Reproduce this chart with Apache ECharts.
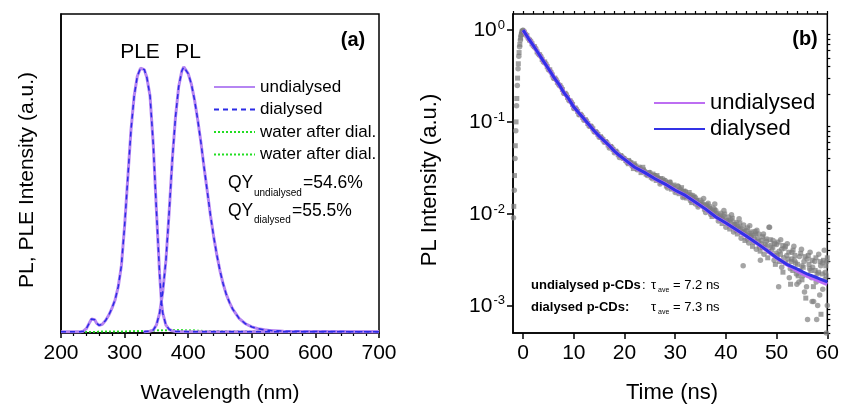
<!DOCTYPE html>
<html>
<head>
<meta charset="utf-8">
<script src="https://cdn.jsdelivr.net/npm/echarts@6.0.0/dist/echarts.min.js"></script>
<style>
html,body{margin:0;padding:0;background:#fff;}
#chart{width:842px;height:406px;}
</style>
</head>
<body>
<div id="chart"></div>
<script>
// ---------- Panel (a): PL / PLE spectra ----------
const pleX = [200,210,220,230,235,240,245,248,250,253,256,260,265,270,275,280,285,290,295,300,305,310,315,320,325,328,331,335,340,345,350,355,358,360,365,370,375,380,400,500,600,700];
const pleY = [0,0,0,0,0.002,0.012,0.035,0.048,0.052,0.045,0.032,0.024,0.028,0.042,0.062,0.088,0.12,0.17,0.25,0.4,0.58,0.76,0.89,0.965,0.995,1.0,0.99,0.96,0.89,0.71,0.46,0.22,0.11,0.07,0.025,0.009,0.003,0.001,0,0,0,0];
const plX = [330,340,345,350,355,360,365,370,375,380,385,390,393,396,400,405,410,415,420,425,430,435,440,445,450,455,460,465,470,480,490,500,510,520,530,550,580,620,700];
const plY = [0,0.002,0.006,0.025,0.07,0.15,0.27,0.45,0.65,0.81,0.925,0.985,1.0,0.995,0.975,0.935,0.875,0.8,0.715,0.62,0.53,0.44,0.36,0.29,0.23,0.18,0.14,0.11,0.085,0.05,0.03,0.018,0.011,0.007,0.004,0.002,0.001,0.0003,0];
const waterX = [200,250,300,330,350,370,390,410,430,460,500,600,700];
const water1Y = [0,0,0.001,0.003,0.005,0.006,0.006,0.005,0.003,0.002,0.001,0,0];
const water2Y = [0,0,0.001,0.002,0.004,0.005,0.005,0.004,0.003,0.001,0.001,0,0];

// ---------- Panel (b): PL decay ----------
const fitT = [0,1,2,3,4,5,6,7,8,9,10,11,12,13,14,15,16,17,18,19,20,22,24,26,28,30,32,34,36,38,40,42,44,46,48,50,52,54,56,58,60];
const fitUndialysed = [1.0,0.82,0.68,0.56,0.46,0.38,0.31,0.26,0.21,0.178,0.145,0.125,0.108,0.093,0.08,0.07,0.062,0.055,0.048,0.043,0.039,0.032,0.028,0.024,0.021,0.018,0.0158,0.0133,0.0112,0.0092,0.0079,0.0067,0.0057,0.0048,0.004,0.0033,0.0028,0.0024,0.0021,0.0019,0.0017];
const fitDialysed = [1.0,0.82,0.68,0.56,0.46,0.38,0.31,0.26,0.21,0.178,0.145,0.125,0.108,0.093,0.08,0.07,0.062,0.055,0.048,0.043,0.039,0.032,0.028,0.024,0.021,0.018,0.0158,0.0133,0.0112,0.0092,0.0079,0.0067,0.0057,0.0048,0.004,0.0033,0.0028,0.0025,0.0022,0.002,0.0018];
const dataCircles = [
[-1.9,0.009],[-1.75,0.018],[-1.6,0.04],[-1.45,0.08],[-1.3,0.15],[-1.15,0.25],[-1.0,0.38],[-0.85,0.52],[-0.7,0.66],[-0.55,0.78],[-0.4,0.88],[-0.25,0.95],[-0.1,0.99],
[0,1.0],[0.5,0.91],[1,0.81],[1.5,0.76],[2,0.67],[2.5,0.63],[3,0.55],[3.5,0.52],[4,0.45],[4.5,0.43],[5,0.37],[5.5,0.35],[6,0.30],[6.5,0.29],[7,0.255],[7.5,0.24],[8,0.205],[8.5,0.2],[9,0.172],[9.5,0.165],[10,0.14],[10.5,0.138],[11,0.12],[11.5,0.119],[12,0.104],[12.5,0.103],[13,0.09],[13.5,0.089],[14,0.078],[14.5,0.077],[15,0.068],[15.5,0.067],[16,0.06],[16.5,0.06],[17,0.052],[17.5,0.053],[18,0.046],[18.5,0.047],[19,0.041],[19.5,0.042],
[20,0.040],[20.5,0.036],[21,0.037],[21.5,0.033],[22,0.034],[22.5,0.030],[23,0.032],[23.5,0.029],[24,0.029],[24.5,0.026],[25,0.028],[25.5,0.024],[26,0.026],[26.5,0.025],[27,0.021],[27.5,0.024],[28,0.023],[28.5,0.019],[29,0.022],[29.5,0.020],[30,0.017],[30.5,0.020],[31,0.0185],[31.5,0.0150],[32,0.0175],[32.5,0.0162],[33,0.0138],[33.5,0.0158],[34,0.0149],[34.5,0.0118],[35,0.0140],[35.5,0.0127],[36,0.0103],[36.5,0.0130],[37,0.0098],[37.5,0.0115],[38,0.0108],[38.5,0.0083],[39,0.0101],[39.5,0.0094],[40,0.0071],[40.5,0.0092],[41,0.0086],[41.5,0.0063],[42,0.0080],[42.5,0.0072],[43,0.0054],[43.5,0.0075],[44,0.0066],[44.5,0.0048],[45,0.0063],[45.5,0.0058],[46,0.0041],[46.5,0.0060],[47,0.0051],[47.5,0.0036],[48,0.0050],[48.5,0.0071],[49,0.0040],[49.5,0.0031],[50,0.0046],[50.5,0.0039],[51,0.0026],[51.5,0.0042],[52,0.0035],[52.5,0.0020],[53,0.0038],[53.5,0.0031],[54,0.0017],[54.5,0.0034],[55,0.0027],[55.5,0.0014],[56,0.0032],[56.5,0.0025],[57,0.0011],[57.5,0.0030],[58,0.0022],[58.5,0.0013],[59,0.0029],[59.5,0.0019],[60,0.0010]
];
const dataSquares = [
[-1.85,0.012],[-1.7,0.026],[-1.55,0.055],[-1.4,0.1],[-1.25,0.18],[-1.1,0.3],[-0.95,0.43],[-0.8,0.57],[-0.65,0.7],[-0.5,0.82],[-0.35,0.9],[-0.2,0.97],
[0.25,0.95],[0.75,0.87],[1.25,0.78],[1.75,0.71],[2.25,0.66],[2.75,0.58],[3.25,0.54],[3.75,0.48],[4.25,0.45],[4.75,0.40],[5.25,0.37],[5.75,0.325],[6.25,0.3],[6.75,0.27],[7.25,0.25],[7.75,0.225],[8.25,0.205],[8.75,0.185],[9.25,0.17],[9.75,0.155],[10.25,0.142],[10.75,0.13],[11.25,0.121],[11.75,0.112],[12.25,0.106],[12.75,0.096],[13.25,0.09],[13.75,0.084],[14.25,0.078],[14.75,0.073],[15.25,0.069],[15.75,0.064],[16.25,0.061],[16.75,0.056],[17.25,0.054],[17.75,0.05],[18.25,0.048],[18.75,0.044],[19.25,0.043],[19.75,0.04],
[20.25,0.038],[20.75,0.035],[21.25,0.036],[21.75,0.031],[22.25,0.033],[22.75,0.031],[23.25,0.028],[23.75,0.030],[24.25,0.027],[24.75,0.028],[25.25,0.025],[25.75,0.026],[26.25,0.023],[26.75,0.024],[27.25,0.022],[27.75,0.023],[28.25,0.020],[28.75,0.021],[29.25,0.0185],[29.75,0.0205],[30.25,0.0178],[30.75,0.0165],[31.25,0.0192],[31.75,0.0155],[32.25,0.0148],[32.75,0.0170],[33.25,0.0132],[33.75,0.0152],[34.25,0.0140],[34.75,0.0124],[35.25,0.0133],[35.75,0.0112],[36.25,0.0125],[36.75,0.0119],[37.25,0.0093],[37.75,0.0110],[38.25,0.0097],[38.75,0.0088],[39.25,0.0078],[39.75,0.0099],[40.25,0.0083],[40.75,0.0068],[41.25,0.0089],[41.75,0.0076],[42.25,0.0060],[42.75,0.0079],[43.25,0.0067],[43.75,0.0051],[44.25,0.0070],[44.75,0.0061],[45.25,0.0044],[45.75,0.0064],[46.25,0.0053],[46.75,0.0039],[47.25,0.0056],[47.75,0.0046],[48.25,0.0033],[48.75,0.0052],[49.25,0.0043],[49.75,0.0028],[50.25,0.0049],[50.75,0.0036],[51.25,0.0023],[51.75,0.0044],[52.25,0.0032],[52.75,0.0017],[53.25,0.0040],[53.75,0.0029],[54.25,0.0021],[54.75,0.0037],[55.25,0.0026],[55.75,0.0012],[56.25,0.0035],[56.75,0.0024],[57.25,0.0016],[57.75,0.0033],[58.25,0.0023],[58.75,0.0008],[59.25,0.0031],[59.75,0.0021]
];
const dataExtra = [
[30.6,0.0198],[31.9,0.0172],[33.1,0.0160],[34.4,0.0131],[35.6,0.0146],[36.9,0.0112],[37.8,0.0127],[38.9,0.0096],[39.6,0.0108],[40.4,0.0078],[41.1,0.0097],[41.8,0.0070],[42.6,0.0088],[43.4,0.0027],[43.9,0.0060],[44.7,0.0074],[45.4,0.0049],[46.1,0.0066],[46.8,0.0031],[47.4,0.0060],[48.1,0.0044],[48.6,0.0071],[49.3,0.0051],[49.9,0.0037],[50.4,0.0016],[50.8,0.0052],[51.4,0.0033],[52.1,0.0047],[52.7,0.0025],[53.4,0.0044],[53.9,0.0022],[54.4,0.0018],[54.9,0.0041],[55.4,0.0030],[55.9,0.0016],[56.1,0.0007],[56.6,0.0038],[57.1,0.0026],[57.3,0.0011],[57.8,0.0018],[57.9,0.0007],[58.3,0.0036],[58.7,0.0027],[59.1,0.0015],[59.4,0.0040],[59.6,0.0023],[59.8,0.0005],[59.9,0.0030],[56.9,0.0020],[55.2,0.0021],[58.1,0.0010],[53.0,0.0032],[51.0,0.0041],[47.0,0.0047],[45.0,0.0057],[44.2,0.0053],[42.3,0.0071],[39.1,0.0090],[36.5,0.0116],[34.0,0.0127]
];
const dataExtra2 = [
[20.8,0.038],[21.9,0.035],[22.6,0.031],[23.6,0.032],[24.6,0.027],[25.6,0.027],[26.4,0.026],[27.1,0.024],[28.1,0.022],[28.9,0.022],[29.6,0.019],[30.9,0.018],[31.6,0.0175],[32.4,0.0155],[33.4,0.0150],[34.2,0.0138],[35.0,0.0126],[35.9,0.0122],[36.7,0.0108],[37.4,0.0106],[38.1,0.0101],[38.6,0.0092],[39.4,0.0088],[40.1,0.0085],[40.8,0.0081],[41.6,0.0077],[42.0,0.0066],[42.8,0.0069],[43.1,0.0062],[43.6,0.0064],[44.4,0.0058],[44.9,0.0055],[45.6,0.0052],[45.9,0.0060],[46.4,0.0050],[46.6,0.0044],[47.2,0.0043],[47.9,0.0053],[48.4,0.0039],[48.9,0.0045],[49.6,0.0047],[50.1,0.0035],[50.6,0.0030],[51.2,0.0045],[51.8,0.0029],[52.4,0.0038],[52.9,0.0030],[53.6,0.0035],[54.1,0.0028],[54.6,0.0024],[55.6,0.0034],[56.4,0.0028],[57.6,0.0024],[58.6,0.0030],[59.0,0.0022],[59.7,0.0027],[60.0,0.0033],[57.0,0.0031],[55.0,0.0019],[53.2,0.0024]
];
const timeTicks = [0,10,20,30,40,50,60];
const decadeTicks = [0.001,0.01,0.1,1];
const logMinorTicks = [0.0005,0.0006,0.0007,0.0008,0.0009,0.002,0.003,0.004,0.005,0.006,0.007,0.008,0.009,0.02,0.03,0.04,0.05,0.06,0.07,0.08,0.09,0.2,0.3,0.4,0.5,0.6,0.7,0.8,0.9];

const zip = (xs, ys) => xs.map((x, i) => [x, ys[i]]);
const FONT = "'Liberation Sans', Arial, sans-serif";

const VIOLET_A = '#b585f2';
const BLUE_A = '#2b2be6';
const GREEN = '#22dd22';
const VIOLET_B = '#bd6ef2';
const BLUE_B = '#3232e6';

function txt(text, x, y, size, opts) {
  opts = opts || {};
  return {
    type: 'text', x: x, y: y, rotation: opts.rot || 0, z: 100,
    style: {
      text: text, fill: '#000',
      font: (opts.bold ? 'bold ' : '') + size + 'px ' + FONT,
      align: opts.align || 'left', verticalAlign: 'middle',
      textAlign: opts.align || 'left', textVerticalAlign: 'middle'
    }
  };
}

const chart = echarts.init(document.getElementById('chart'), null, {renderer: 'canvas'});

const option = {
  backgroundColor: '#fff',
  animation: false,
  textStyle: {fontFamily: FONT},
  grid: [
    {left: 61, width: 318, top: 14, height: 319, show: true, borderColor: '#000', borderWidth: 1.5, backgroundColor: 'transparent'},
    {left: 513, width: 317, top: 14, height: 319, show: true, borderColor: '#000', borderWidth: 1.5, backgroundColor: 'transparent'}
  ],
  legend: [
    {
      orient: 'vertical', left: 208, top: 73, itemWidth: 41, itemHeight: 12, itemGap: 4.5,
      itemStyle: {opacity: 0},
      textStyle: {fontSize: 17, lineHeight: 18, color: '#000', fontFamily: FONT},
      data: ['undialysed', 'dialysed', 'water after dial.', 'water after dial. '],
      selectedMode: false
    },
    {
      orient: 'vertical', left: 648, top: 87, itemWidth: 51, itemHeight: 14, itemGap: 4,
      itemStyle: {opacity: 0},
      textStyle: {fontSize: 22, lineHeight: 22, color: '#000', fontFamily: FONT},
      data: ['undialysed ', 'dialysed '],
      selectedMode: false
    }
  ],
  xAxis: [
    {
      gridIndex: 0, type: 'value', min: 200, max: 700, interval: 100,
      axisLine: {show: true, onZero: false, lineStyle: {color: '#000', width: 1.5}},
      axisTick: {show: true, inside: false, length: 5, lineStyle: {color: '#000', width: 1.5}},
      minorTick: {show: true, splitNumber: 5, length: 3, lineStyle: {color: '#000', width: 1.2}},
      axisLabel: {fontSize: 21, color: '#000', margin: 10, fontFamily: FONT},
      splitLine: {show: false}
    },
    {
      gridIndex: 1, type: 'value', min: -2, max: 60,
      axisLine: {show: true, onZero: false, lineStyle: {color: '#000', width: 1.5}},
      axisTick: {show: true, inside: false, length: 6, customValues: timeTicks, lineStyle: {color: '#000', width: 1.5}},
      axisLabel: {fontSize: 21, color: '#000', margin: 10, fontFamily: FONT, customValues: timeTicks},
      splitLine: {show: false}
    },
    {
      gridIndex: 1, type: 'value', min: -2, max: 60, interval: 2,
      axisLine: {show: false, onZero: false},
      axisTick: {show: true, inside: false, length: 3, lineStyle: {color: '#000', width: 1.2}},
      axisLabel: {show: false},
      splitLine: {show: false}
    }
  ],
  yAxis: [
    {
      gridIndex: 0, type: 'value', min: -0.005, max: 1.2,
      axisLine: {show: true, onZero: false, lineStyle: {color: '#000', width: 1.5}},
      axisTick: {show: false}, axisLabel: {show: false}, splitLine: {show: false}
    },
    {
      gridIndex: 1, type: 'log', logBase: 10, min: 0.0005, max: 1.5,
      axisLine: {show: true, onZero: false, lineStyle: {color: '#000', width: 1.5}},
      axisTick: {show: true, inside: false, length: 6, customValues: decadeTicks, lineStyle: {color: '#000', width: 1.5}},
      axisLabel: {
        customValues: decadeTicks, margin: 8, color: '#000',
        formatter: function (v) { return '{b|10}{s|' + Math.round(Math.log10(v)) + '}'; },
        rich: {
          b: {fontSize: 21, fontFamily: FONT, color: '#000', lineHeight: 22, verticalAlign: 'bottom'},
          s: {fontSize: 13, fontFamily: FONT, color: '#000', lineHeight: 13, verticalAlign: 'top', padding: [0, 0, 0, 1]}
        }
      },
      splitLine: {show: false}
    },
    {
      gridIndex: 1, type: 'log', logBase: 10, min: 0.0005, max: 1.5,
      axisLine: {show: false, onZero: false},
      axisTick: {show: true, inside: false, length: 3, customValues: logMinorTicks, lineStyle: {color: '#000', width: 1.2}},
      axisLabel: {show: false},
      splitLine: {show: false}
    }
  ],
  series: [
    // panel (a)
    {name: 'water after dial.', type: 'line', xAxisIndex: 0, yAxisIndex: 0, symbol: 'none', data: zip(waterX, water1Y),
     lineStyle: {color: GREEN, width: 1.5, type: [2, 2]}, itemStyle: {color: GREEN}, z: 2},
    {name: 'water after dial. ', type: 'line', xAxisIndex: 0, yAxisIndex: 0, symbol: 'none', data: zip(waterX, water2Y),
     lineStyle: {color: GREEN, width: 1.5, type: [2, 2]}, itemStyle: {color: GREEN}, z: 2},
    {name: 'undialysed', type: 'line', xAxisIndex: 0, yAxisIndex: 0, symbol: 'none', data: zip(pleX, pleY),
     lineStyle: {color: VIOLET_A, width: 3}, itemStyle: {color: VIOLET_A}, z: 3},
    {name: 'undialysed', type: 'line', xAxisIndex: 0, yAxisIndex: 0, symbol: 'none', data: zip(plX, plY),
     lineStyle: {color: VIOLET_A, width: 3}, itemStyle: {color: VIOLET_A}, z: 3},
    {name: 'dialysed', type: 'line', xAxisIndex: 0, yAxisIndex: 0, symbol: 'none', data: zip(pleX, pleY),
     lineStyle: {color: BLUE_A, width: 1.5, type: [5, 4]}, itemStyle: {color: BLUE_A}, z: 4},
    {name: 'dialysed', type: 'line', xAxisIndex: 0, yAxisIndex: 0, symbol: 'none', data: zip(plX, plY),
     lineStyle: {color: BLUE_A, width: 1.5, type: [5, 4]}, itemStyle: {color: BLUE_A}, z: 4},
    // panel (b)
    {name: 'data undialysed', type: 'scatter', xAxisIndex: 1, yAxisIndex: 1, symbol: 'circle', symbolSize: 5.5,
     data: dataCircles.concat(dataExtra), itemStyle: {color: 'rgba(130,130,130,0.9)'}, z: 2},
    {name: 'data dialysed', type: 'scatter', xAxisIndex: 1, yAxisIndex: 1, symbol: 'rect', symbolSize: 5,
     data: dataSquares.concat(dataExtra2), itemStyle: {color: 'rgba(125,125,125,0.9)'}, z: 2},
    {name: 'undialysed ', type: 'line', xAxisIndex: 1, yAxisIndex: 1, symbol: 'none', data: zip(fitT, fitUndialysed),
     lineStyle: {color: VIOLET_B, width: 4}, itemStyle: {color: VIOLET_B}, z: 3},
    {name: 'dialysed ', type: 'line', xAxisIndex: 1, yAxisIndex: 1, symbol: 'none', data: zip(fitT, fitDialysed),
     lineStyle: {color: BLUE_B, width: 3}, itemStyle: {color: BLUE_B}, z: 4}
  ],
  graphic: [
    txt('PL, PLE Intensity (a.u.)', 27, 180, 21, {rot: Math.PI / 2, align: 'center'}),
    txt('Wavelength (nm)', 220, 393, 21, {align: 'center'}),
    txt('PLE', 140, 52, 21, {align: 'center'}),
    txt('PL', 188, 52, 21, {align: 'center'}),
    txt('(a)', 353, 40, 20, {align: 'center', bold: true}),
    txt('QY', 228, 183, 17.5),
    txt('undialysed', 254, 193, 10),
    txt('=54.6%', 303, 183, 17.5),
    txt('QY', 228, 211, 17.5),
    txt('dialysed', 254, 220, 10),
    txt('=55.5%', 292, 211, 17.5),
    txt('PL Intensity (a.u.)', 430, 180, 22, {rot: Math.PI / 2, align: 'center'}),
    txt('Time (ns)', 672, 393, 22, {align: 'center'}),
    txt('(b)', 805, 39, 20, {align: 'center', bold: true}),
    txt('undialysed p-CDs', 531, 285, 13, {bold: true}),
    txt(':', 642, 285, 13),
    txt('\u03c4', 651, 285, 13),
    txt('ave', 658, 290, 7),
    txt('= 7.2 ns', 673, 285, 13),
    txt('dialysed p-CDs:', 531, 307, 13, {bold: true}),
    txt('\u03c4', 651, 307, 13),
    txt('ave', 658, 312, 7),
    txt('= 7.3 ns', 673, 307, 13)
  ]
};
chart.setOption(option);
</script>
</body>
</html>
